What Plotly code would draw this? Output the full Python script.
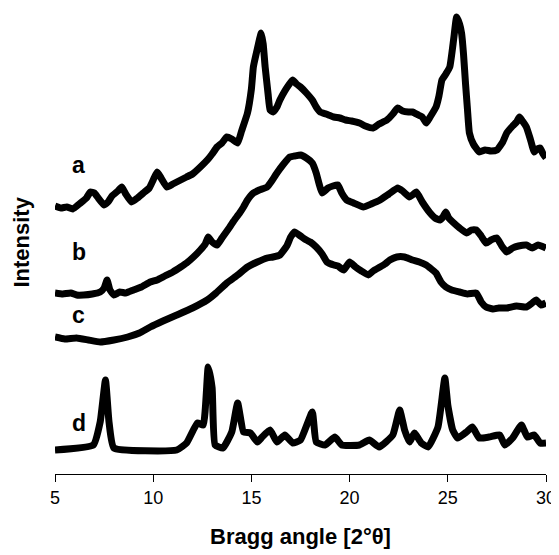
import plotly.graph_objects as go

# Bragg angle (2θ) positions and intensities (arbitrary units, stacked patterns)
a_x = [5.0, 5.3, 5.6, 5.9, 6.3, 6.6, 6.8, 7.0, 7.2, 7.5, 7.7, 7.9, 8.2, 8.4, 8.6, 8.9, 9.2,
       9.5, 9.8, 10.0, 10.2, 10.4, 10.7, 11.0, 11.4, 11.7, 12.0, 12.4, 12.8, 13.0, 13.25,
       13.5, 13.75, 14.0, 14.3, 14.5, 14.8, 15.0, 15.1, 15.3, 15.5, 15.6, 15.7, 15.85, 15.95,
       16.1, 16.3, 16.45, 16.7, 16.9, 17.1, 17.3, 17.5, 17.8, 18.1, 18.3, 18.5, 18.8, 19.2,
       19.5, 19.8, 20.1, 20.5, 20.8, 21.2, 21.5, 21.9, 22.2, 22.45, 22.7, 23.0, 23.2, 23.5,
       23.7, 23.9, 24.1, 24.4, 24.55, 24.7, 24.9, 25.1, 25.3, 25.45, 25.6, 25.7, 25.8, 25.9,
       26.0, 26.1, 26.3, 26.6, 26.9, 27.2, 27.5, 27.8, 28.0, 28.3, 28.5, 28.65, 28.8, 29.0,
       29.2, 29.4, 29.55, 29.7, 29.85, 30.0]
a_y = [268, 266, 267, 265, 271, 276, 282, 281, 276, 269, 272, 278, 283, 287, 280, 272, 276,
       281, 286, 294, 302, 296, 287, 290, 294, 297, 300, 307, 315, 320, 327,
       331, 337, 335, 331, 343, 361, 385, 407, 425, 441, 430, 407, 380, 364,
       362, 367, 374, 383, 389, 394, 390, 387, 381, 374, 367, 362, 360, 357,
       356, 354, 353, 351, 348, 346, 350, 354, 360, 366, 363, 362, 362, 359,
       357, 351, 357, 367, 378, 394, 400, 407, 435, 457, 450, 441, 420, 391,
       365, 341, 330, 322, 324, 323, 324, 332, 341, 348, 352, 357, 353, 347,
       335, 322, 325, 326, 320, 316]

b_x = [5.0, 5.4, 5.8, 6.1, 6.45, 6.9, 7.3, 7.5, 7.65, 7.8, 8.0, 8.3, 8.6, 9.0, 9.4, 9.85,
       10.2, 10.6, 11.0, 11.4, 11.7, 12.05, 12.4, 12.65, 12.8, 13.0, 13.25, 13.5, 13.9, 14.1,
       14.4, 14.6, 14.8, 15.1, 15.4, 15.8, 16.0, 16.3, 16.6, 16.95, 17.2, 17.5, 17.8, 18.1,
       18.3, 18.45, 18.6, 18.9, 19.15, 19.4, 19.6, 19.85, 20.2, 20.7, 21.1, 21.55, 22.0,
       22.45, 22.7, 23.05, 23.2, 23.4, 23.7, 24.1, 24.35, 24.6, 24.75, 24.9, 25.05, 25.25,
       25.6, 25.95, 26.2, 26.45, 26.7, 26.95, 27.2, 27.5, 27.75, 28.0, 28.3, 28.6, 29.0,
       29.3, 29.6, 30.0]
b_y = [181, 180, 181, 179, 179, 180, 182, 186, 194, 184, 179, 182, 181, 184, 187, 192,
       194, 198, 202, 207, 211, 217, 224, 230, 237, 232, 229, 236, 247, 253,
       261, 267, 274, 281, 284, 287, 292, 301, 309, 317, 318, 319, 316, 311,
       301, 290, 281, 286, 288, 289, 281, 274, 271, 267, 270, 274, 280,
       286, 283, 277, 279, 282, 272, 261, 256, 254, 257, 262, 256, 252,
       246, 241, 244, 244, 238, 231, 234, 236, 228, 222, 226, 228, 229,
       226, 229, 226]

c_x = [5.0, 5.5, 6.1, 6.7, 7.3, 8.0, 8.7, 9.3, 9.85, 10.5, 11.2, 12.0, 12.75, 13.2, 13.75,
       14.3, 14.8, 15.3, 15.8, 16.1, 16.45, 16.8, 17.0, 17.2, 17.5, 17.8, 18.0, 18.3, 18.6,
       18.85, 19.2, 19.4, 19.7, 20.0, 20.3, 20.6, 20.95, 21.2, 21.55, 21.8, 22.05, 22.4,
       22.8, 23.2, 23.55, 23.9, 24.1, 24.4, 24.65, 24.9, 25.2, 25.6, 26.0, 26.45, 26.7,
       26.95, 27.3, 27.6, 28.0, 28.5, 29.0, 29.3, 29.5, 29.75, 30.0]
c_y = [137, 135, 136, 134, 132, 134, 137, 141, 147, 153, 159, 166, 174, 181, 191,
       199, 207, 212, 216, 217, 219, 228, 237, 242, 238, 234, 232, 227, 220,
       212, 209, 208, 204, 212, 207, 203, 199, 203, 207, 210, 214, 217,
       217, 214, 212, 209, 206, 201, 192, 187, 184, 182, 180, 181, 172,
       167, 165, 166, 166, 168, 167, 171, 174, 169, 171]

d_x = [5.0, 6.95, 7.3, 7.57, 7.75, 8.0, 11.2, 11.7, 12.25, 12.55, 12.8, 13.0, 13.15, 13.55,
       14.0, 14.3, 14.6, 14.95, 15.3, 15.55, 15.95, 16.3, 16.7, 17.1, 17.5, 18.1, 18.3, 18.75,
       19.25, 19.6, 20.5, 21.0, 21.5, 22.2, 22.55, 22.8, 23.05, 23.3, 23.65, 24.0, 24.5,
       24.85, 25.0, 25.25, 25.5, 25.95, 26.25, 26.6, 27.1, 27.65, 27.9, 28.3, 28.75, 29.05,
       29.4, 29.7, 30.0]
d_y = [24, 29, 52, 94, 52, 26, 24, 31, 51, 49, 107, 86, 29, 26,
       42, 71, 42, 41, 32, 37, 44, 32, 39, 31, 34, 62, 32, 29,
       37, 29, 29, 34, 27, 39, 64, 44, 32, 41, 31, 27, 47,
       96, 69, 44, 36, 42, 47, 36, 37, 39, 29, 36, 49, 37,
       39, 31, 31]

series_names = ["a", "b", "c", "d"]
series_x = [a_x, b_x, c_x, d_x]
series_y = [a_y, b_y, c_y, d_y]
label_x = 6.2
label_y = [309, 222, 159, 51]

x_ticks = [5, 10, 15, 20, 25, 30]

FONT = "Liberation Sans, Arial, sans-serif"

fig = go.Figure()
for name, xs, ys in zip(series_names, series_x, series_y):
    fig.add_trace(go.Scatter(x=xs, y=ys, mode="lines", name=name,
                             line=dict(color="black", width=7, shape="spline", smoothing=0.4),
                             showlegend=False))

for name, ly in zip(series_names, label_y):
    fig.add_annotation(x=label_x, y=ly, text=name, showarrow=False,
                       font=dict(family=FONT, size=23, color="black", weight="bold"),
                       xanchor="center", yanchor="middle")

fig.add_annotation(xref="paper", yref="paper", x=(20 - 54.5) / 492, y=0.5,
                   text="Intensity", textangle=-90, showarrow=False,
                   font=dict(family=FONT, size=22, color="black", weight="bold"),
                   xanchor="center", yanchor="middle")

# page body has an 8px default margin; the figure is sized to fit the window
fig.update_layout(
    width=551, height=547,
    margin=dict(l=46.5, r=12.5, t=2, b=81),
    paper_bgcolor="white", plot_bgcolor="white",
    font=dict(family=FONT, color="black"),
    xaxis=dict(range=[5, 30], tickvals=x_ticks, ticks="outside", ticklen=7,
               tickcolor="black", tickwidth=1, showline=True, linecolor="black",
               linewidth=1, showgrid=False, zeroline=False,
               tickfont=dict(family=FONT, size=18, color="black"),
               title=dict(text="Bragg angle [2°θ]", standoff=22,
                          font=dict(family=FONT, size=22, color="black", weight="bold"))),
    yaxis=dict(range=[0, 464], showticklabels=False, ticks="", showline=False,
               showgrid=False, zeroline=False),
)

fig.write_html("out.html")
